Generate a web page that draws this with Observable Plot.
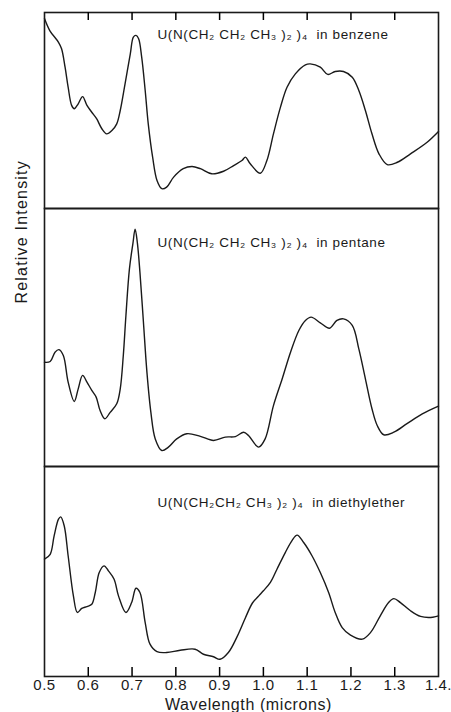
<!DOCTYPE html>
<html>
<head>
<meta charset="utf-8">
<script src="https://cdn.jsdelivr.net/npm/d3@7"></script>
<script src="https://cdn.jsdelivr.net/npm/@observablehq/plot@0.6"></script>
<style>
  body { margin: 0; background: #fff; }
  #chart { width: 451px; height: 712px; position: relative; }
  #chart svg { display: block; overflow: visible; }
</style>
</head>
<body>
<div id="chart"></div>
<script>
// Wavelength tick values and labels (microns)
const xTicks = [0.5, 0.6, 0.7, 0.8, 0.9, 1.0, 1.1, 1.2, 1.3, 1.4];
const xTickLabels = ["0.5", "0.6", "0.7", "0.8", "0.9", "1.0", "1.1", "1.2", "1.3", "1.4."];
const innerTicks = [0.6, 0.7, 0.8, 0.9, 1.0, 1.1, 1.2, 1.3];

const titles = [
  "U(N(CH\u2082 CH\u2082 CH\u2083 )\u2082 )\u2084  in benzene",
  "U(N(CH\u2082 CH\u2082 CH\u2083 )\u2082 )\u2084  in pentane",
  "U(N(CH\u2082CH\u2082 CH\u2083 )\u2082 )\u2084  in diethylether"
];
const yLabel = "Relative Intensity";
const xLabel = "Wavelength (microns)";

// [wavelength (microns), relative intensity (0-100 of panel)]
const benzene = [
  [0.5, 96.9], [0.512, 90.8], [0.532, 84.8], [0.539, 81.5], [0.547, 72.1], [0.554, 61.9],
  [0.562, 52.6], [0.568, 50.9], [0.577, 53.4], [0.587, 57.1], [0.597, 52.6], [0.608, 49.1],
  [0.619, 45.8], [0.631, 40.7], [0.642, 38.1], [0.654, 39.8], [0.665, 43.2], [0.673, 50],
  [0.684, 63.6], [0.696, 78.9], [0.703, 87.4], [0.709, 88.3], [0.715, 86.6], [0.722, 77.2],
  [0.73, 60.2], [0.737, 43.2], [0.747, 26.2], [0.757, 14.3], [0.768, 10.1], [0.779, 10.9],
  [0.795, 16], [0.817, 20.3], [0.837, 21.4], [0.856, 20.3], [0.882, 17.7], [0.909, 19],
  [0.932, 21.9], [0.951, 24.5], [0.959, 26.2], [0.97, 22.8], [0.993, 18], [1.008, 24.5],
  [1.023, 38.1], [1.039, 51.7], [1.054, 61.9], [1.073, 68.7], [1.096, 73.3], [1.107, 73.8],
  [1.13, 72.1], [1.147, 68.4], [1.164, 69.9], [1.183, 69.9], [1.203, 67], [1.218, 60.2],
  [1.233, 50], [1.248, 38.1], [1.264, 27.9], [1.283, 22.4], [1.306, 23.6], [1.336, 27.9],
  [1.374, 33.8], [1.4, 39.3]
];
const pentane = [
  [0.5, 40.4], [0.513, 40.7], [0.524, 44.3], [0.533, 45.3], [0.543, 43], [0.554, 32.7],
  [0.568, 25.2], [0.577, 30.1], [0.587, 35.3], [0.597, 32.7], [0.608, 29.5], [0.618, 26.9],
  [0.627, 21.7], [0.638, 18.5], [0.65, 21], [0.665, 24.3], [0.673, 30.1], [0.68, 43],
  [0.686, 58.5], [0.694, 76.6], [0.702, 86.5], [0.707, 92], [0.712, 86.9], [0.718, 75.3],
  [0.726, 55.9], [0.734, 36.5], [0.743, 21], [0.753, 10.7], [0.768, 6.2], [0.783, 7.5],
  [0.802, 10.7], [0.825, 12.7], [0.856, 11.7], [0.886, 10.1], [0.913, 11.4], [0.936, 11.6],
  [0.955, 13.3], [0.966, 12], [0.989, 7.5], [1.004, 10.7], [1.023, 23.6], [1.043, 34],
  [1.062, 44.3], [1.081, 52.7], [1.096, 56.6], [1.109, 57.9], [1.13, 55.7], [1.151, 53.6],
  [1.168, 56.6], [1.183, 57.2], [1.203, 54.7], [1.218, 45.6], [1.233, 34], [1.248, 22.4],
  [1.26, 15.9], [1.275, 12.3], [1.298, 13.3], [1.328, 16.6], [1.363, 20.4], [1.4, 23.4]
];
const diethylether = [
  [0.5, 55.9], [0.513, 58.2], [0.522, 67], [0.532, 74.9], [0.537, 76], [0.545, 71.8],
  [0.554, 57.5], [0.566, 38.4], [0.575, 30.5], [0.585, 32.4], [0.597, 33.3], [0.608, 34.4],
  [0.616, 40], [0.625, 49.5], [0.636, 52.7], [0.646, 50.3], [0.659, 46.3], [0.669, 38.4],
  [0.686, 30.5], [0.699, 35.2], [0.709, 42], [0.718, 40], [0.73, 25.7], [0.741, 15.4],
  [0.757, 11.8], [0.779, 11.4], [0.81, 12.5], [0.844, 13], [0.863, 10.6], [0.886, 9.4],
  [0.901, 8.2], [0.92, 11.4], [0.94, 19], [0.959, 28], [0.975, 35], [0.99, 38.5],
  [1.0, 40.8], [1.016, 44.8], [1.031, 51.1], [1.05, 59], [1.065, 64.6], [1.077, 67.3],
  [1.092, 63.8], [1.111, 57.5], [1.13, 49.5], [1.149, 40], [1.164, 30.5], [1.18, 23.3],
  [1.199, 19.7], [1.226, 17.8], [1.245, 21], [1.267, 28.9], [1.286, 35.2], [1.298, 37.1],
  [1.313, 35.2], [1.336, 31.3], [1.359, 28.6], [1.382, 28.1], [1.4, 28.9]
];

const FONT = "'Liberation Sans', Arial, Helvetica, sans-serif";
const INK = "#1a1a1a";
const W = 451, ML = 44, MR = 13;

function makePanel({series, title, titleDy, frameH, marginTop, marginBottom, tickSide, axis, yLab}) {
  const rows = series.map(([wl, v]) => ({wl, v}));
  const marks = [
    Plot.frame({stroke: INK, strokeWidth: 1.6}),
    Plot.line(rows, {x: "wl", y: "v", curve: "catmull-rom", stroke: INK, strokeWidth: 1.4}),
    Plot.text([title], {frameAnchor: "top-left", dx: 113, dy: titleDy, textAnchor: "start",
      lineAnchor: "middle", fontSize: 13.5, fill: INK})
  ];
  // inward tick marks, length in pixels converted to the panel's 0-100 scale
  const tickLen = (px) => 100 * px / frameH;
  if (tickSide === "top") {
    marks.push(Plot.ruleX(innerTicks, {x: d => d, y1: 100, y2: 100 - tickLen(8),
      stroke: "#000", strokeWidth: 1.5}));
  } else if (tickSide === "bottom") {
    marks.push(Plot.ruleX(innerTicks, {x: d => d, y1: 0, y2: tickLen(9),
      stroke: "#000", strokeWidth: 1.5}));
  }
  if (axis) {
    marks.push(Plot.axisX({ticks: xTicks, tickSize: 0, tickPadding: 3, label: null,
      tickFormat: d => xTickLabels[xTicks.indexOf(d)], fontSize: 15, fill: INK}));
    marks.push(Plot.text([xLabel], {frameAnchor: "bottom", dx: 7, dy: 28, lineAnchor: "middle",
      fontSize: 16, fill: INK}));
  }
  if (yLab) {
    marks.push(Plot.text([yLabel], {frameAnchor: "left", rotate: -90, dx: -23, dy: -34,
      fontSize: 16, fill: INK}));
  }
  const svg = Plot.plot({
    width: W,
    height: frameH + marginTop + marginBottom,
    marginLeft: ML, marginRight: MR, marginTop, marginBottom,
    x: {domain: [0.5, 1.4], axis: null},
    y: {domain: [0, 100], axis: null},
    style: {fontFamily: FONT, fontSize: "15px", color: INK, background: "transparent", overflow: "visible"},
    marks
  });
  d3.select(svg).selectAll("text").each(function() {
    const t = this.textContent;
    if (t === yLabel) this.setAttribute("letter-spacing", "1.2");
    else if (t === xLabel) this.setAttribute("letter-spacing", "0.6");
    else if (t.startsWith("U(")) this.setAttribute("letter-spacing", "0.6");
    else this.setAttribute("letter-spacing", "0.5");
  });
  return svg;
}

const chart = document.getElementById("chart");
chart.append(makePanel({series: benzene, title: titles[0], titleDy: 22, frameH: 196,
  marginTop: 12, marginBottom: 0, tickSide: "top"}));
chart.append(makePanel({series: pentane, title: titles[1], titleDy: 34, frameH: 258,
  marginTop: 0, marginBottom: 0, tickSide: null, yLab: true}));
chart.append(makePanel({series: diethylether, title: titles[2], titleDy: 36, frameH: 210,
  marginTop: 0, marginBottom: 36, tickSide: "bottom", axis: true}));
</script>
</body>
</html>
